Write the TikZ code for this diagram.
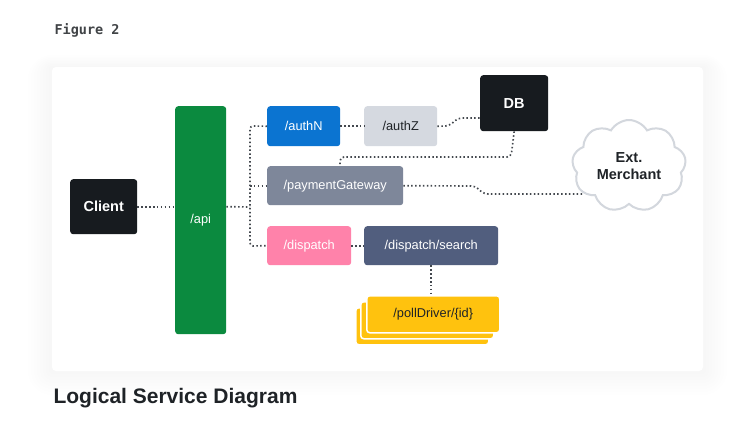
\documentclass[tikz,border=0pt]{standalone}
\usepackage{fontspec}
\setmainfont{Liberation Sans}
\setsansfont{Liberation Sans}
\setmonofont{DejaVu Sans Mono}
\usetikzlibrary{shapes.symbols}
\definecolor{darkbox}{HTML}{171B1F}
\definecolor{apigreen}{HTML}{0B8A3F}
\definecolor{authblue}{HTML}{0B74D1}
\definecolor{authzgrey}{HTML}{D5D9E0}
\definecolor{paygrey}{HTML}{7E879A}
\definecolor{dispink}{HTML}{FF82AA}
\definecolor{slate}{HTML}{515E7E}
\definecolor{pollyellow}{HTML}{FFC20E}
\definecolor{connc}{HTML}{43484E}
\definecolor{cloudline}{HTML}{D3D7DD}
\definecolor{textdark}{HTML}{1F2327}
\tikzset{
  svc/.style={anchor=north west, inner sep=0pt, rounded corners=3pt, font=\fontsize{12.8}{14}\selectfont, text=white},
  bigbox/.style={svc, font=\bfseries\fontsize{14.5}{16}\selectfont, fill=darkbox},
  conn/.style={draw=connc, line width=1.65pt, dash pattern=on 1.5pt off 2.4pt, rounded corners=4pt},
}
\begin{document}
\begin{tikzpicture}[x=1pt,y=-1pt]
\useasboundingbox (0,0) rectangle (755,429);
\fill[white] (0,0) rectangle (755,429);
% card shadow
\foreach \d in {24,21,...,3}{
  \fill[black, opacity=0.0055, rounded corners=\d pt] (52-\d,67-\d*0.5) rectangle (703+\d,371+\d);
}
\fill[white, rounded corners=4pt] (52,67) rectangle (703,371);

\node[anchor=west, font=\ttfamily\bfseries\fontsize{13.5}{15}\selectfont, text=textdark!85] (fig) at (51,30) {Figure 2};
\node[anchor=west, font=\bfseries\fontsize{21}{24}\selectfont, text=textdark] (title) at (50,398) {Logical Service Diagram};

% nodes
\node[bigbox, minimum width=67pt, minimum height=55pt] (client) at (70,179) {Client};
\node[svc, fill=apigreen, minimum width=51pt, minimum height=228pt] (api) at (175,106) {/api};
\node[svc, fill=authblue, minimum width=73pt, minimum height=40pt] (authN) at (267,106) {/authN};
\node[svc, fill=authzgrey, text=textdark, minimum width=73pt, minimum height=40pt] (authZ) at (364,106) {/authZ};
\node[bigbox, minimum width=68pt, minimum height=56pt] (db) at (480,75) {DB};
\node[svc, fill=paygrey, minimum width=136pt, minimum height=39pt] (pay) at (267,166) {/paymentGateway};
\node[svc, fill=dispink, minimum width=84pt, minimum height=39pt] (disp) at (267,226) {/dispatch};
\node[svc, fill=slate, minimum width=134pt, minimum height=39pt] (search) at (364,226) {/dispatch/search};
\node[svc, fill=pollyellow, draw=white, line width=1.5pt, minimum width=133pt, minimum height=37pt] (poll3) at (355,307) {};
\node[svc, fill=pollyellow, draw=white, line width=1.5pt, minimum width=133pt, minimum height=37pt] (poll2) at (360,301) {};
\node[svc, fill=pollyellow, draw=white, line width=1.5pt, text=textdark, minimum width=133pt, minimum height=37pt] (poll) at (366,295) {/pollDriver/\{id\}};
\node[cloud, cloud puffs=9, cloud puff arc=120, aspect=1.25, fill=white, draw=cloudline, line width=2pt, minimum width=114pt, minimum height=92pt, inner sep=0pt, align=center, font=\bfseries\fontsize{14.5}{17}\selectfont, text=textdark] (merchant) at (629,166) {Ext.\\Merchant};

% connectors
\coordinate (tr) at (250,207);
\coordinate (j1) at (250,126);
\coordinate (j3) at (250,246);
\coordinate (dbturn) at (511,157);
\coordinate (payturn) at (340,157);
\draw[conn] (client.east) -- (client.east -| api.west);
\draw[conn] (api.east |- client.east) -- (tr);
\draw[conn, rounded corners=3pt] (authN.west) -- (j1) -- (j3) -- (disp.west);
\draw[conn] (tr |- pay.west) -- (pay.west);
\draw[conn] (authN.east) -- (authZ.west);
\draw[conn] (authZ.east) -- (449,126) -- (458,118) -- (db.west |- 0,118);
\draw[conn] (db.south) -- (dbturn) -- (payturn) -- (payturn |- pay.north);
\draw[conn] (pay.east) -- (475,186) -- (484,194) -- (584,194);
\draw[conn] (disp.east) -- (search.west);
\draw[conn] (search.south) -- (poll.north -| search.south);
\end{tikzpicture}
\end{document}
